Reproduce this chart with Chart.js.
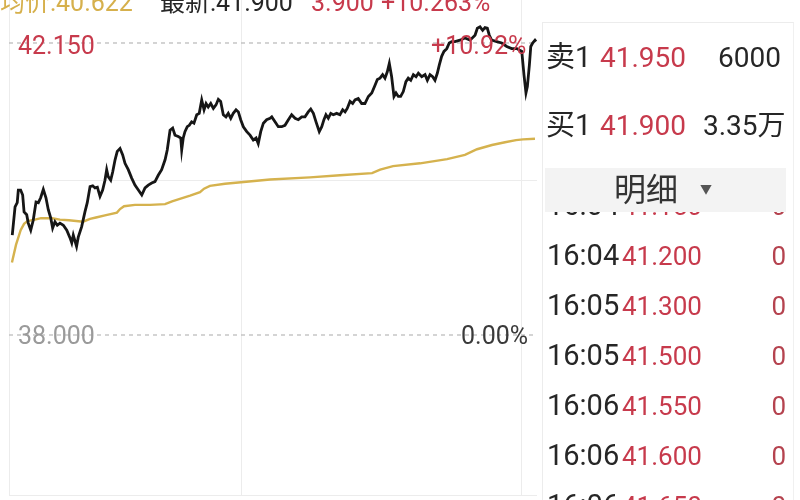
<!DOCTYPE html>
<html>
<head>
<meta charset="utf-8">
<script src="https://cdn.jsdelivr.net/npm/chart.js@4/dist/chart.umd.min.js"></script>
<style>
  html, body { margin: 0; padding: 0; background: #fff; }
  body { width: 800px; height: 500px; position: relative; overflow: hidden;
    font-family: Roboto, "Noto Sans CJK SC", sans-serif; }
  #wrap { position: absolute; left: 0; top: 0; width: 543px; height: 500px; }
  .t { position: absolute; white-space: nowrap; line-height: 1; }
  .red { color: #c73a4c; }
  .gold { color: #d6b04c; }
  .dark { color: #262626; }
  #panel { position: absolute; left: 542px; top: 22px; width: 250px; height: 490px;
    border-left: 1px solid #ececec; border-top: 1px solid #ececec; border-right: 1px solid #f0f0f0; }
  #detail { position: absolute; left: 545px; top: 168px; width: 241px; height: 44px; background: #f3f3f3; }
  #rows { position: absolute; left: 542px; top: 212px; width: 250px; height: 288px; overflow: hidden; }
  .row { position: absolute; left: 0; width: 246px; height: 50px; }
</style>
</head>
<body>
<div id="wrap"><canvas id="c"></canvas></div>

<!-- header, cut off at the top of the screenshot -->
<div class="t gold" style="left:0;top:-10px;font-size:25px">均价:40.622</div>
<div class="t dark" style="left:160px;top:-10px;font-size:25px">最新:41.900</div>
<div class="t red" style="left:311px;top:-10px;font-size:25px">3.900</div>
<div class="t red" style="left:381px;top:-10px;font-size:25px">+10.263%</div>

<!-- axis labels -->
<div class="t red" style="left:18px;top:33px;font-size:25px">42.150</div>
<div class="t red" style="left:431px;top:33px;font-size:25px">+10.92%</div>
<div class="t" style="left:18px;top:323px;font-size:25px;color:#9a9a9a">38.000</div>
<div class="t" style="left:461px;top:323px;font-size:25px;color:#3a3a3a">0.00%</div>

<div id="panel"></div>
<div class="t dark" style="left:546px;top:43px;font-size:29px">卖1</div>
<div class="t red" style="left:600px;top:44px;font-size:28px">41.950</div>
<div class="t dark" style="left:718px;top:44px;font-size:28px">6000</div>
<div class="t dark" style="left:546px;top:111px;font-size:29px">买1</div>
<div class="t red" style="left:600px;top:112px;font-size:28px">41.900</div>
<div class="t dark" style="left:703px;top:112px;font-size:28px">3.35万</div>
<div id="rows"></div>
<div id="detail"></div>
<div class="t" style="left:614px;top:174px;font-size:32px;color:#333">明细</div>
<div class="t" style="left:700px;top:184px;font-size:12px;color:#555">▼</div>

<script>
// trading minutes since 09:30 (12:00 and 13:00 share x = 150, 16:00 at 330)
const priceT = [2.1, 3.9, 5.3, 6.0, 7.5, 8.8, 9.7, 11.4, 12.4, 14.0, 15.6, 17.4, 18.9, 20.4, 22.1, 23.8,
  25.3, 26.9, 28.1, 29.6, 31.1, 32.8, 35.0, 37.2, 39.3, 40.4, 41.4, 43.5, 44.6, 46.8, 48.9, 50.4,
  52.2, 53.9, 55.4, 56.9, 58.6, 60.3, 61.8, 62.9, 63.9, 65.5, 66.8, 68.3, 69.7, 71.5, 73.2, 74.7,
  76.8, 79.0, 81.1, 83.3, 85.5, 87.6, 89.7, 91.9, 94.0, 96.1, 98.3, 100.5, 101.9, 103.7, 105.4, 106.9,
  109.0, 110.6, 111.2, 112.2, 113.3, 114.8, 116.1, 117.6, 119.1, 120.9, 122.5, 124.1, 125.6, 126.9, 128.3, 129.9,
  131.6, 133.3, 134.8, 136.3, 138.0, 139.7, 141.2, 142.8, 144.4, 146.2, 147.7, 149.2, 150.9, 153.1, 155.2, 157.3,
  159.1, 160.5, 162.1, 163.8, 165.9, 168.1, 169.2, 171.3, 173.4, 175.6, 177.7, 179.9, 182.0, 184.2, 186.3, 188.5,
  190.6, 192.7, 194.3, 196.0, 197.7, 199.8, 201.4, 202.8, 204.1, 205.6, 207.2, 208.8, 211.0, 213.1, 214.9, 216.4,
  217.8, 219.6, 221.3, 222.8, 224.9, 227.1, 229.2, 231.4, 233.6, 235.7, 237.2, 238.9, 240.6, 242.1, 243.6, 244.9,
  246.4, 247.9, 249.2, 250.7, 252.2, 253.9, 255.6, 257.1, 258.7, 260.4, 262.1, 263.6, 265.8, 267.9, 269.4, 271.1,
  272.8, 274.3, 275.8, 277.1, 278.6, 280.1, 281.9, 283.5, 285.1, 287.2, 290.4, 293.6, 296.9, 300.1, 301.6, 303.3,
  305.0, 306.5, 308.0, 309.3, 310.8, 314.1, 317.3, 320.5, 323.7, 327.0, 330.2, 331.6, 332.9, 333.8, 335.1, 336.0,
  337.2, 338.7, 339.4];
const priceV = [39.42, 39.82, 39.88, 40.06, 40.06, 39.99, 39.75, 39.71, 39.59, 39.49, 39.63, 39.89, 39.88, 39.95, 40.07, 39.95,
  39.78, 39.66, 39.52, 39.61, 39.56, 39.59, 39.56, 39.49, 39.38, 39.31, 39.42, 39.26, 39.39, 39.54, 39.75, 39.88,
  40.11, 40.12, 40.09, 40.10, 39.97, 40.06, 40.20, 40.35, 40.25, 40.20, 40.32, 40.49, 40.61, 40.65, 40.56, 40.44,
  40.35, 40.23, 40.13, 40.06, 39.99, 40.09, 40.13, 40.16, 40.18, 40.27, 40.35, 40.49, 40.63, 40.91, 40.94, 40.84,
  40.82, 40.80, 40.63, 40.80, 40.89, 40.96, 40.98, 41.03, 41.01, 41.13, 41.15, 41.34, 41.20, 41.29, 41.24, 41.29,
  41.22, 41.27, 41.35, 41.32, 41.13, 41.10, 41.15, 41.08, 41.15, 41.20, 41.17, 41.06, 40.96, 40.89, 40.84, 40.77,
  40.80, 40.72, 40.89, 41.01, 41.06, 41.08, 41.10, 41.03, 40.96, 40.96, 40.98, 41.06, 41.13, 41.08, 41.06, 41.10,
  41.10, 41.17, 41.21, 41.15, 41.03, 40.89, 40.96, 41.06, 41.13, 41.08, 41.15, 41.13, 41.15, 41.13, 41.20, 41.17,
  41.22, 41.32, 41.29, 41.34, 41.36, 41.29, 41.29, 41.39, 41.44, 41.55, 41.63, 41.65, 41.70, 41.65, 41.74, 41.86,
  41.67, 41.39, 41.44, 41.39, 41.39, 41.46, 41.60, 41.65, 41.62, 41.70, 41.67, 41.72, 41.67, 41.70, 41.62, 41.70,
  41.67, 41.62, 41.72, 41.84, 41.96, 42.03, 42.07, 42.15, 42.17, 42.17, 42.19, 42.22, 42.19, 42.26, 42.36, 42.38,
  42.33, 42.37, 42.36, 42.26, 42.19, 42.17, 42.15, 42.10, 42.07, 42.07, 42.03, 41.70, 41.44, 41.53, 41.84, 42.10,
  42.15, 42.19, 42.17];

const avgT = [1.9, 4.5, 7.5, 9.7, 11.9, 16.7, 20.6, 27.7, 32.8, 38.6, 47.7, 52.2, 56.0, 61.8, 69.5, 71.5,
  74.1, 81.1, 90.8, 100.5, 105.0, 109.5, 116.6, 123.0, 125.6, 129.4, 139.1, 149.4, 168.1, 193.8, 213.1, 233.8,
  239.0, 247.3, 264.7, 282.1, 293.6, 301.4, 311.0, 319.4, 326.5, 331.0, 338.7];
const avgV = [39.03, 39.28, 39.49, 39.58, 39.62, 39.64, 39.66, 39.66, 39.64, 39.63, 39.61, 39.65, 39.67, 39.70, 39.74, 39.79,
  39.83, 39.85, 39.85, 39.86, 39.90, 39.93, 39.98, 40.03, 40.08, 40.12, 40.15, 40.17, 40.21, 40.24, 40.27, 40.30,
  40.35, 40.40, 40.44, 40.50, 40.56, 40.64, 40.70, 40.74, 40.77, 40.78, 40.79];

const LIMIT_UP = 42.15, PREV_CLOSE = 38.0;
const X_GRID = [0, 150, 330];
const Y_MIN = 35.726, Y_MAX = 42.761, Y_GRID = [Y_MIN, 40.19];

// tick list (明细), first and last rows are half hidden
const tickTime = ["16:04", "16:04", "16:05", "16:05", "16:06", "16:06", "16:06"];
const tickPrice = ["41.150", "41.200", "41.300", "41.500", "41.550", "41.600", "41.650"];
const tickVol = ["0", "0", "0", "0", "0", "0", "0"];

const rows = document.getElementById("rows");
tickTime.forEach((tm, i) => {
  const r = document.createElement("div");
  r.className = "row";
  r.style.top = (-20 + i * 50) + "px";
  r.innerHTML = `<span class="t dark" style="left:5px;top:-1px;font-size:29px">${tm}</span>` +
    `<span class="t red" style="left:80px;top:1px;font-size:26px">${tickPrice[i]}</span>` +
    `<span class="t" style="right:2px;top:1px;font-size:26px;color:#b5434f">${tickVol[i]}</span>`;
  rows.appendChild(r);
});

const pts = (xs, ys) => xs.map((x, i) => ({ x, y: ys[i] }));
const flat = v => [{ x: 0, y: v }, { x: 340, y: v }];

new Chart(document.getElementById("c"), {
  type: "line",
  data: {
    datasets: [
      { label: "price", data: pts(priceT, priceV), borderColor: "#161616",
        borderWidth: 2.8, pointRadius: 0, tension: 0, order: 0 },
      { label: "avg", data: pts(avgT, avgV), borderColor: "#d5b24e",
        borderWidth: 2.4, pointRadius: 0, tension: 0, order: 1 },
      { label: "limit", data: flat(LIMIT_UP), borderColor: "#bdbdbd", borderWidth: 1.3,
        borderDash: [4, 4], pointRadius: 0, order: 2 },
      { label: "prev", data: flat(PREV_CLOSE), borderColor: "#bdbdbd", borderWidth: 1.3,
        borderDash: [4, 4], pointRadius: 0, order: 2 },
    ],
  },
  options: {
    responsive: true, maintainAspectRatio: false, animation: false,
    layout: { padding: { left: 9, right: 6, top: 0, bottom: 5 } },
    plugins: { legend: { display: false }, tooltip: { enabled: false } },
    scales: {
      x: {
        type: "linear", min: 0, max: 340,
        ticks: { display: false }, border: { display: false },
        grid: { color: "#ececec", drawTicks: false },
        afterBuildTicks: ax => { ax.ticks = X_GRID.map(v => ({ value: v })); },
        afterFit: ax => { ax.height = 0; },
      },
      y: {
        min: Y_MIN, max: Y_MAX,
        ticks: { display: false }, border: { display: false },
        grid: { color: "#ececec", drawTicks: false },
        afterBuildTicks: ax => { ax.ticks = Y_GRID.map(v => ({ value: v })); },
        afterFit: ax => { ax.width = 0; },
      },
    },
  },
});
</script>
</body>
</html>
